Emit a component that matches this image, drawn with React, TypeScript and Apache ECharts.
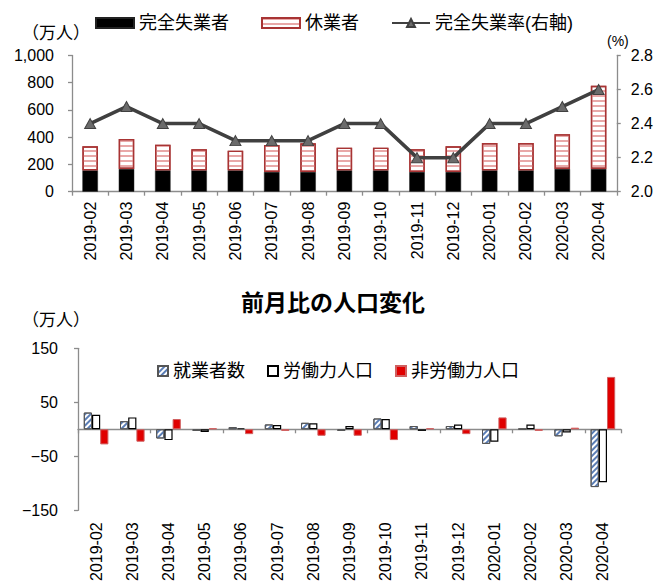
import React, { useEffect, useRef } from "react";
import * as echarts from "echarts";

// Months shared by both panels
const months = [
  "2019-02", "2019-03", "2019-04", "2019-05", "2019-06", "2019-07", "2019-08",
  "2019-09", "2019-10", "2019-11", "2019-12", "2020-01", "2020-02", "2020-03", "2020-04",
];

// Upper panel (万人 / %)
const unemployed = [157, 167, 157, 157, 157, 145, 145, 157, 157, 145, 145, 157, 157, 167, 167];
const furloughed = [176, 220, 188, 154, 144, 198, 210, 166, 166, 166, 188, 200, 200, 254, 611];
const unemploymentRate = [2.4, 2.5, 2.4, 2.4, 2.3, 2.3, 2.3, 2.4, 2.4, 2.2, 2.2, 2.4, 2.4, 2.5, 2.6];

// Lower panel: month-on-month change (万人)
const employedChange = [31, 15, -17, -3, 4, 9, 12, -3, 20, 6, 6, -27, 1, -13, -107];
const labourForceChange = [27, 22, -20, -5, 2, 8, 11, 6, 19, -3, 9, -23, 9, -6, -98];
const notInLabourChange = [-28, -23, 19, 2, -9, -3, -12, -12, -20, 2, -9, 22, -3, 3, 97];
const changeTicks = [-150, -50, 50, 150];

const FONT = '"Liberation Sans", Arial, "Noto Sans CJK JP", sans-serif';
const AXIS_GREY = "#8c8c8c";
const minus = (v: number) => String(v).replace("-", "\u2212");

export default function App() {
  const ref = useRef<HTMLDivElement>(null);

  useEffect(() => {
    if (!ref.current) return;
    const chart = echarts.init(ref.current, null, { renderer: "svg" });

    const axisLine = { show: true, lineStyle: { color: AXIS_GREY, width: 1.3 } };
    const axisTick = { show: true, length: 4, lineStyle: { color: AXIS_GREY, width: 1.3 } };
    const label16 = { fontSize: 16, color: "#000", fontFamily: FONT };

    chart.setOption({
      animation: false,
      textStyle: { fontFamily: FONT },
      title: {
        text: "前月比の人口変化",
        left: 236,
        top: 286,
        textStyle: { fontSize: 23, fontWeight: "bold", color: "#000", fontFamily: FONT },
      },
      legend: [
        {
          data: [
            { name: "完全失業者", icon: "rect" },
            { name: "休業者", icon: "rect" },
            { name: "完全失業率(右軸)" },
          ],
          left: 90,
          top: 9,
          itemWidth: 38,
          itemHeight: 10,
          itemGap: 32,
          textStyle: { fontSize: 18, color: "#000" },
        },
        {
          data: [
            { name: "就業者数", icon: "rect" },
            { name: "労働力人口", icon: "rect" },
            { name: "非労働力人口", icon: "rect" },
          ],
          left: 152,
          top: 357,
          itemWidth: 10,
          itemHeight: 10,
          itemGap: 22,
          textStyle: { fontSize: 18, color: "#000" },
        },
      ],
      graphic: [
        { type: "text", left: 22, top: 25, style: { text: "（万人）", font: `17px ${FONT}`, fill: "#000" } },
        { type: "text", left: 22, top: 312, style: { text: "（万人）", font: `17px ${FONT}`, fill: "#000" } },
        { type: "text", left: 607, top: 34, style: { text: "(%)", font: `14px ${FONT}`, fill: "#000" } },
      ],
      grid: [
        { left: 72, right: 39, top: 55.5, bottom: 392.3, containLabel: false },
        { left: 78, right: 35, top: 348.3, bottom: 73.7, containLabel: false },
      ],
      xAxis: [
        {
          type: "category",
          gridIndex: 0,
          data: months,
          axisLine,
          axisTick,
          axisLabel: { ...label16, rotate: 90, margin: 10, interval: 0 },
        },
        {
          type: "category",
          gridIndex: 1,
          position: "bottom",
          data: months,
          axisLine: { ...axisLine, onZero: true },
          axisTick,
          axisLabel: { show: false },
        },
        {
          type: "category",
          gridIndex: 1,
          position: "bottom",
          data: months,
          axisLine: { show: false, onZero: false },
          axisTick: { show: false },
          axisLabel: { ...label16, rotate: 90, margin: 12, interval: 0 },
        },
      ],
      yAxis: [
        {
          type: "value",
          gridIndex: 0,
          min: 0,
          max: 1000,
          interval: 200,
          axisLine,
          axisTick,
          splitLine: { show: false },
          axisLabel: {
            ...label16,
            margin: 18,
            formatter: (v: number) => v.toLocaleString("en-US"),
          },
        },
        {
          type: "value",
          gridIndex: 0,
          position: "right",
          min: 2.0,
          max: 2.8,
          interval: 0.2,
          axisLine,
          axisTick,
          splitLine: { show: false },
          axisLabel: { ...label16, margin: 14, formatter: (v: number) => v.toFixed(1) },
        },
        {
          type: "value",
          gridIndex: 1,
          min: -150,
          max: 150,
          axisLine,
          axisTick: { ...axisTick, customValues: changeTicks },
          splitLine: { show: false },
          axisLabel: { ...label16, margin: 20, customValues: changeTicks, formatter: minus },
        },
      ],
      series: [
        {
          name: "完全失業者",
          type: "bar",
          stack: "total",
          xAxisIndex: 0,
          yAxisIndex: 0,
          barWidth: 15.5,
          data: unemployed,
          itemStyle: { color: "#000", borderColor: "#222", borderWidth: 0.5 },
        },
        {
          name: "休業者",
          type: "bar",
          stack: "total",
          xAxisIndex: 0,
          yAxisIndex: 0,
          barWidth: 15.5,
          data: furloughed,
          itemStyle: {
            color: "#fff",
            borderColor: "#A83434",
            borderWidth: 1.4,
            decal: {
              symbol: "rect",
              symbolSize: 1,
              dashArrayX: [[8, 0]],
              dashArrayY: [2, 3],
              rotation: 0,
              color: "#E8A8A8",
            },
          },
        },
        {
          name: "完全失業率(右軸)",
          type: "line",
          xAxisIndex: 0,
          yAxisIndex: 1,
          data: unemploymentRate,
          symbol: "triangle",
          symbolSize: [11, 10],
          lineStyle: { color: "#404040", width: 3.5 },
          itemStyle: { color: "#6b6b6b", borderColor: "#404040", borderWidth: 1 },
          z: 5,
        },
        {
          name: "就業者数",
          type: "bar",
          xAxisIndex: 1,
          yAxisIndex: 2,
          barWidth: 8.2,
          barGap: "0%",
          data: employedChange,
          itemStyle: {
            color: "#fff",
            borderColor: "#555",
            borderWidth: 1,
            decal: {
              symbol: "rect",
              symbolSize: 1,
              dashArrayX: [[8, 0]],
              dashArrayY: [2, 2],
              rotation: -Math.PI / 4,
              color: "#5A7DB5",
            },
          },
        },
        {
          name: "労働力人口",
          type: "bar",
          xAxisIndex: 1,
          yAxisIndex: 2,
          barWidth: 8.2,
          barGap: "0%",
          data: labourForceChange,
          itemStyle: { color: "#fff", borderColor: "#000", borderWidth: 1.2 },
        },
        {
          name: "非労働力人口",
          type: "bar",
          xAxisIndex: 1,
          yAxisIndex: 2,
          barWidth: 8.2,
          barGap: "0%",
          data: notInLabourChange,
          itemStyle: { color: "#E00000", borderColor: "#D06060", borderWidth: 1 },
        },
      ],
    });

    return () => chart.dispose();
  }, []);

  return (
    <div
      ref={ref}
      style={{ position: "fixed", left: 0, top: 0, width: 656, height: 584, background: "#fff" }}
    />
  );
}
